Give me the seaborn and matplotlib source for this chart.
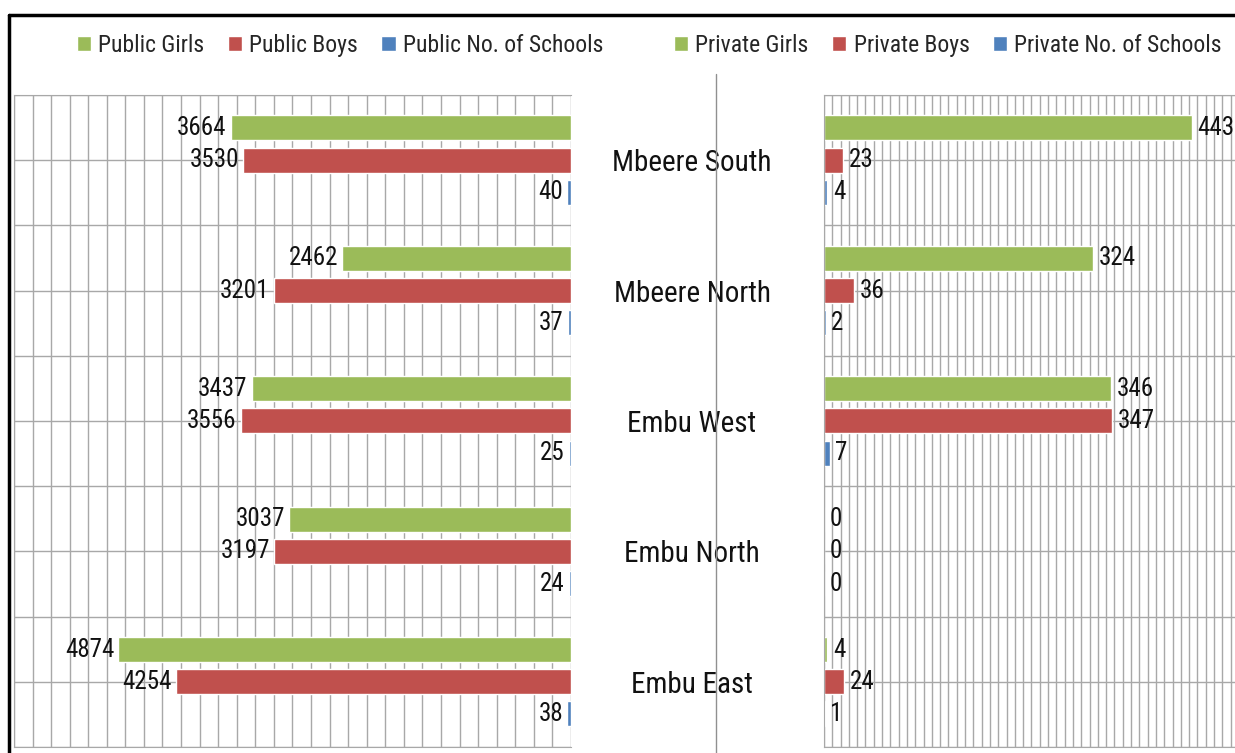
import matplotlib
matplotlib.use("Agg")
import matplotlib.pyplot as plt
import numpy as np
import pandas as pd
import seaborn as sns
from matplotlib import font_manager
from matplotlib.lines import Line2D
from matplotlib.ticker import MultipleLocator

districts = ["Mbeere South", "Mbeere North", "Embu West", "Embu North", "Embu East"]
public_girls = [3664, 2462, 3437, 3037, 4874]
public_boys = [3530, 3201, 3556, 3197, 4254]
public_schools = [40, 37, 25, 24, 38]
private_girls = [443, 324, 346, 0, 4]
private_boys = [23, 36, 347, 0, 24]
private_schools = [4, 2, 7, 0, 1]

public_series = ["Public Girls", "Public Boys", "Public No. of Schools"]
private_series = ["Private Girls", "Private Boys", "Private No. of Schools"]
colors = ["#9BBB59", "#C0504D", "#4F81BD"]

sns.set_style("white")

# pick a narrow font if one is installed (the original uses a condensed face)
fonts = font_manager.fontManager.ttflist
family, stretch, narrow = "Lato", "normal", False
for name in ["Liberation Sans Narrow", "Roboto Condensed", "Open Sans Condensed", "Noto Sans Condensed"]:
    if any(f.name == name for f in fonts):
        family, narrow = name, True
        break
else:
    for name in ["DejaVu Sans", "Noto Sans", "Open Sans", "Roboto"]:
        if any(f.name == name and str(f.stretch) in ("condensed", "semi-condensed", "extra-condensed")
               for f in fonts):
            family, stretch, narrow = name, "condensed", True
            break
plt.rcParams["font.family"] = [family, "DejaVu Sans"]
plt.rcParams["font.stretch"] = stretch
k = 1.0 if narrow else 0.85


def long_table(names, girls, boys, schools):
    df = pd.DataFrame({"District": districts, names[0]: girls, names[1]: boys, names[2]: schools})
    return df.melt(id_vars="District", var_name="Series", value_name="Value")


public_df = long_table(public_series, public_girls, public_boys, public_schools)
private_df = long_table(private_series, private_girls, private_boys, private_schools)

fig = plt.figure(figsize=(12.35, 7.53), dpi=100)
ax_pub = fig.add_axes([0.0113, 0.008, 0.451, 0.866])
ax_pri = fig.add_axes([0.6672, 0.008, 0.336, 0.866])

grid_color = "#a8a8a8"


def draw_panel(ax, df, names, step, xlim, leftward):
    sns.barplot(data=df, y="District", x="Value", hue="Series", hue_order=names,
                palette=colors, orient="h", width=0.74, gap=0.22, errorbar=None,
                saturation=1, ax=ax)
    ax.set_xlim(*xlim)
    ax.set_ylim(4.5, -0.5)
    for cont in ax.containers:
        anns = ax.bar_label(cont, fmt="%g", padding=4, fontsize=18 * k, color="#111111")
        if leftward:
            for a in anns:
                a.set_ha("right")
                a.xyann = (-3, 0)
    ax.xaxis.set_major_locator(MultipleLocator(step))
    ax.set_yticks(range(len(districts)))
    ax.set_yticks(np.arange(-0.5, len(districts), 1.0), minor=True)
    ax.grid(True, which="both", color=grid_color, lw=1)
    ax.set_axisbelow(True)
    ax.tick_params(which="both", length=0, labelbottom=False)
    ax.set_xlabel("")
    ax.set_ylabel("")
    for s in ax.spines.values():
        s.set_color(grid_color)
    handles, labels = ax.get_legend_handles_labels()
    ax.get_legend().remove()
    return handles, labels


h1, l1 = draw_panel(ax_pub, public_df, public_series, 200, (6000, 0), True)
ax_pub.set_yticklabels([])
ax_pub.spines["right"].set_visible(False)

h2, l2 = draw_panel(ax_pri, private_df, private_series, 10, (0, 500), False)
ax_pri.set_yticklabels(districts, ha="center", fontsize=21 * k, color="#111111")
ax_pri.tick_params(axis="y", pad=95)

for ax, h, l, cx in [(ax_pub, h1, l1, 340), (ax_pri, h2, l2, 948)]:
    ax.legend(h, l, loc="center", bbox_to_anchor=(cx / 1235, 0.94),
              bbox_transform=fig.transFigure, ncol=3, frameon=False,
              handlelength=0.6, handleheight=0.6, handletextpad=0.3,
              columnspacing=1.0, prop={"size": 17 * k})

# divider line and the black frame of the screenshot
fig.add_artist(Line2D([716 / 1235, 716 / 1235], [0, 1 - 74 / 753], color="#909090", lw=1))
fig.add_artist(Line2D([9 / 1235, 1], [1 - 15 / 753, 1 - 15 / 753], color="black", lw=2.5))
fig.add_artist(Line2D([9 / 1235, 9 / 1235], [0, 1 - 15 / 753], color="black", lw=2.5))

fig.savefig("out.png", dpi=100)
